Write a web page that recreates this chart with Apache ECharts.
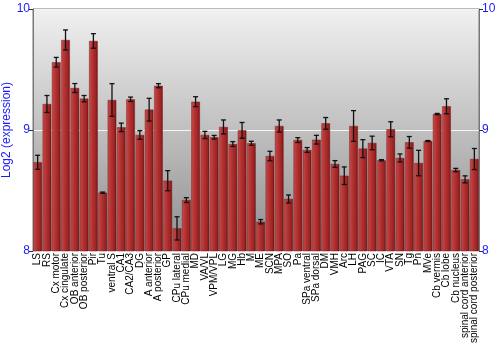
<!DOCTYPE html>
<html>
<head>
<meta charset="utf-8">
<script src="https://cdn.jsdelivr.net/npm/echarts@6/dist/echarts.min.js"></script>
<style>html,body{margin:0;padding:0;background:#fff;}#c{width:500px;height:350px;}</style>
</head>
<body>
<div id="c"></div>
<script>
const categories = ["LS","RS","Cx motor","Cx cingulate","OB anterior","OB posterior","Pir","Tu","ventral S","CA1","CA2/CA3","DG","A anterior","A posterior","GP","CPu lateral","CPu medial","MD","VA/VL","VPM/VPL","LG","MG","Hb","M","ME","SCN","MPA","SO","Pa","SPa ventral","SPa dorsal","DM","VMH","Arc","LH","PAG","SC","IC","VTA","SN","Tg","Pn","MVe","Cb vermis","Cb lobe","Cb nucleus","spinal cord anterior","spinal cord posterior"];
const values = [8.733,9.215,9.56,9.744,9.347,9.259,9.736,8.482,9.248,9.022,9.254,8.959,9.168,9.366,8.581,8.187,8.421,9.234,8.959,8.94,9.025,8.884,8.997,8.89,8.242,8.785,9.033,8.43,8.917,8.835,8.92,9.055,8.719,8.622,9.033,8.846,8.893,8.75,9.006,8.769,8.898,8.727,8.909,9.132,9.196,8.669,8.592,8.76];
const errors = [0.058,0.07,0.04,0.083,0.037,0.026,0.06,0.005,0.135,0.035,0.018,0.036,0.094,0.017,0.083,0.096,0.02,0.041,0.03,0.015,0.058,0.02,0.065,0.017,0.018,0.039,0.05,0.033,0.02,0.02,0.036,0.048,0.028,0.073,0.127,0.074,0.056,0.005,0.062,0.033,0.048,0.105,0.004,0.005,0.062,0.014,0.029,0.087];
const yTicks = [8, 9, 10];

const chart = echarts.init(document.getElementById('c'), null, {renderer: 'canvas'});
const blue = '#1a1aff';
const font = 'Liberation Sans, Arial, sans-serif';
const barGrad = new echarts.graphic.LinearGradient(0, 0, 1, 0, [
  {offset: 0, color: '#c64c4c'},
  {offset: 0.35, color: '#b63434'},
  {offset: 0.8, color: '#9c2222'},
  {offset: 1, color: '#761212'}
]);
const errData = categories.map((c, i) => [i, values[i] - errors[i], values[i] + errors[i]]);

chart.setOption({
  animation: false,
  grid: {
    left: 33, right: 21, top: 9, bottom: 99,
    containLabel: false,
    outerBoundsMode: 'none',
    show: true,
    borderColor: '#777', borderWidth: 1,
    backgroundColor: new echarts.graphic.LinearGradient(0, 0, 0, 1, [
      {offset: 0, color: '#f1f1f1'},
      {offset: 1, color: '#8e8e8e'}
    ])
  },
  xAxis: {
    type: 'category',
    data: categories,
    axisLine: {show: false},
    axisTick: {show: false},
    axisLabel: {
      interval: 0, rotate: 90, fontSize: 10, color: '#000',
      fontFamily: font, margin: 2
    }
  },
  yAxis: [{
    type: 'value', min: yTicks[0], max: yTicks[yTicks.length - 1], interval: 1,
    name: 'Log2 (expression)', nameLocation: 'middle', nameGap: 20,
    nameMoveOverlap: false,
    nameTextStyle: {color: blue, fontSize: 12, fontFamily: font},
    axisLine: {show: true, lineStyle: {color: '#777'}},
    axisTick: {show: true, length: 4, lineStyle: {color: '#333'}},
    axisLabel: {color: blue, fontSize: 12, margin: 3, fontFamily: font},
    splitLine: {show: true, lineStyle: {color: '#f4f4f4', width: 1}}
  }, {
    type: 'value', min: yTicks[0], max: yTicks[yTicks.length - 1], interval: 1, position: 'right',
    axisLine: {show: true, lineStyle: {color: '#777'}},
    axisTick: {show: true, length: 4, lineStyle: {color: '#333'}},
    axisLabel: {color: blue, fontSize: 12, margin: 3, fontFamily: font},
    splitLine: {show: false}
  }],
  series: [{
    type: 'bar',
    data: values,
    barWidth: '92%',
    itemStyle: {color: barGrad, borderColor: '#6e1010', borderWidth: 0.4},
    z: 2
  }, {
    type: 'custom',
    data: errData,
    z: 3,
    renderItem: function (params, api) {
      const x = api.value(0);
      const lo = api.coord([x, api.value(1)]);
      const hi = api.coord([x, api.value(2)]);
      const cw = 2.5;
      const st = {stroke: '#111', lineWidth: 1.3};
      return {
        type: 'group',
        children: [
          {type: 'line', shape: {x1: lo[0], y1: lo[1], x2: hi[0], y2: hi[1]}, style: st},
          {type: 'line', shape: {x1: lo[0] - cw, y1: lo[1], x2: lo[0] + cw, y2: lo[1]}, style: st},
          {type: 'line', shape: {x1: hi[0] - cw, y1: hi[1], x2: hi[0] + cw, y2: hi[1]}, style: st}
        ]
      };
    }
  }]
});
</script>
</body>
</html>
